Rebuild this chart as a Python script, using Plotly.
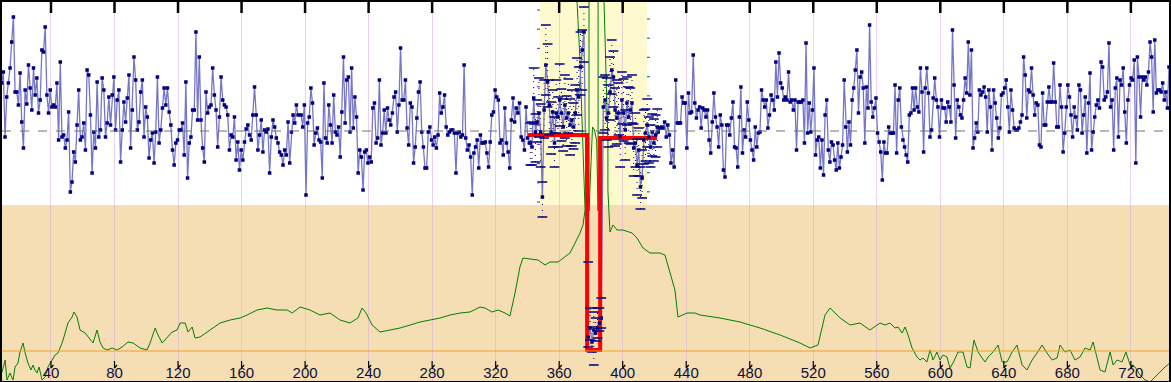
import numpy as np
import plotly.graph_objects as go

# ---------------- data ----------------
X_TICKS = list(range(40, 721, 40))

# blue signal, read segment by segment (values: offset from the dashed baseline)
seg1 = [78,48,59,-6,34,48,63,89,114,39,39,26,58,9,-17,41,27,66,43,21,63,36,53,18,31,81,79,104,36,18,41,24,26,24,48,-9,69,-6,-4,-17,-9,19,-61,-51,-21,-31,6,41,-9,-6,8,-19,61,56,16,-42,-1,-17,49,-6,1,53,41,-6,8,34,6,36,54,1,31,41,-31,1,29,9,33,56,-17,21,74,51,1,9,39,51,-6,24,14,-27,-9,-2,-32,-1,54,-12,1,23,43,26,43,19,6,-19,-34,-12,-9,1,1,8,-24,49,-47,-12,-6,21,21,99,11,74,11,-17,-31,39,18,24,26,63,36,21,-16,14,54,31,26,24,16,-19,-4,-6,14,-29,-11,-39,-19,-29,-11,2,6,-4,-9,16,44,16,-19,-4,11,-21,1,-1,2,-42,-6,11,4,-7,-12,-21,-24,-34,-19,-24,9,-32,-1,16,8,26,16]
seg2 = [16,4,26,-64,8,14,43,28,-14,-2,3,-9,-11,-47,48,-7,-12,26,6,-12,36,-1,-4,4,-26,19,74,8,51,54,-1,63,3,34,14,-42,-19,-26,-59,-21,-19,-32,-26,-31,23,28,-12,-7,51,-14,-2,21,-2,23,11,6,18,34,39,-1,26,83,31,31,51,3,-14,28,24,-32,-16,13,39,49,-1,-16,-37,-37,-1,4,-9,-14,-6,-17,-4,38,18,24,36,4,-4,-1,1,1,-2,-42,-2,-1,-6,-4,66,-7,-19,-14,-26,-64,-22,-16,-9,-37,-4,-12,-12,-11,-22,-36,-11,16,19,41,34,31,-12,-9,-24,23,-12,-21,-37,11,33,9,23,18,28,-6,-9,-19,24,-7,-12]
band_pre = [-12,-16,33,-1,9,18,-1,-66,21,66,49,26,-1,19,-12,18,14,31,18,4,26,13,18,6,11,4,18,41,34,64,81,99]
band_dip = [-206,-197,-211,-199,-202,-197,-192,-187]
band_post = [24,31,13,18,39,61,54,21,13,18,-6,31,18,1,28,14,21,28,-17,-12,-34,-19,-56,-47,-9,-2,6,-6,-16,-1,-12,-4,4]
seg3 = [-1,3,4,3,9,-6,6,-4,-32,-19,-36,51,8,8,8,34,28,28,-17,38,18,19,76,28,13,21,24,3,23,21,14,21,-9,-22,9,38,14,4,-16,16,6,-39,-46,6,6,-4,13,29,-16,-17,-36,14,44,-22,1,-6,29,11,-9,-19,-29,4,-16,-2,-1,41,31,24,31,3,16,36,31,21,69,34,78,48,43,31,34,31,59,29,31,21,31,-19,29,29,29,31,-12,88,-2,28,-1,21,63,-24,-9,-6,-37,-9,-44,16,31,-19,-31,-11,-14,-29,-39,-12,-37,-26,-14,51,4,-21,9,-14,31,43,61,81,18,54,59,43,-12,44,23,106,29,14,23,33,-2,-11,-21,-49,-11,-22,-22,4,-2,-2,-2,46,-22,31,43,4,-9,-16,-24,-31,16,18,43,21,43,24,19,63,39,-21,43,63,38,-6,1,33,53,31,24,-6]
seg4 = [31,23,23,9,29,24,9,101,46,-7,31,24,16,13,31,53,38,89,36,81,-17,-7,8,-1,41,36,39,44,34,-1,41,24,-19,41,28,13,-7,3,36,38,43,51,24,-1,41,21,3,1,1,3,9,16,74,56,13,41,39,63,36,16,28,26,-14,-16,38,6,6,29,44,29,29,68,29,4,4,46,24,-21,-2,24,46,34,16,-6,24,14,1,46,41,-2,16,34,-22,28,58,-19,-1,14,26,31,23,69,64,31,34,39,88,24,31,-19,43,53,-6,51,46,63,19,-12,31,46,53,51,71,-32,74,54,14,54,51,54,46,59,89,74,19,91,38,41,41,39,48,31,39,23,64,21]

# x extent covered by each segment
SPAN = {"seg1": (7.9, 195.6), "seg2": (197.5, 341.2), "pre": (341.8, 375.6),
        "dip": (378.3, 386.5), "post": (387.8, 421.8), "seg3": (422.4, 599.5),
        "seg4": (600.7, 745.0)}

# error bars in the highlighted window (upper / lower)
err_up_pre = [20,25,30,18,22,35,28,15,30,40,38,25,30,22,26,33,20,36,24,28,30,22,34,26,30,24,28,32,30,35,20,25]
err_dn_pre = [22,18,26,30,20,24,35,20,28,30,25,30,22,35,24,20,30,26,28,24,33,28,20,30,26,22,30,25,34,28,40,30]
err_up_dip = [75,20,15,18,15,20,15,20]
err_dn_dip = [10,12,10,35,8,10,8,10]
err_up_post = [30,25,40,28,35,30,26,22,38,30,24,28,34,20,26,30,22,28,24,30,26,22,20,28,30,24,26,20,22,18,24,20,18]
err_dn_post = [26,30,22,34,28,24,30,36,26,22,30,24,28,30,22,26,34,20,28,24,30,26,22,20,24,28,22,26,20,24,18,22,20]

# red step (window level, dip bottom)
red_x = [340.4, 377.6, 377.6, 385.8, 385.8, 421.6]
red_y = [-4, -4, -219, -219, -7, -7]

# green profile
green_x = [7.9,9.2,11.1,12.3,14.2,16.1,17.4,19.2,20.5,22.4,23.6,25.5,27.4,28.7,29.9,31.2,32.5,34.4,36.3,38.1,40.7,42.6,44.4,47.0,48.9,50.7,53.3,54.5,56.4,58.3,61.5,64.6,66.5,69.0,70.9,72.8,75.3,78.5,81.6,84.8,88.5,91.7,96.1,100.5,102.4,105.6,107.4,110.0,113.1,116.3,119.4,121.3,124.5,126.3,128.9,130.7,133.9,140.2,146.5,152.8,159.1,163.5,169.8,176.1,182.4,188.7,191.9,196.9,
           203.1,209.4,215.7,222.0,228.3,233.3,235.9,238.4,242.2,247.2,253.5,259.8,266.1,272.4,278.7,285.0,291.3,297.6,303.9,310.2,
           313.3,317.7,321.5,325.9,329.0,332.2,335.3,337.2,341.6,346.7,351.1,354.2,359.3,363.7,366.8,370.0,373.1,375.0,376.3,374.4,373.1,371.2,370.0,
           378.8,378.8,381.0,382.3,383.6,384.5,384.5,385.8,388.2,390.7,390.7,392.0,393.9,396.4,400.2,405.9,409.0,412.8,417.2,423.5,426.6,429.8,432.9,434.8,440.5,445.5,448.7,
           461.3,473.9,486.5,499.1,511.7,518.0,523.0,527.4,530.6,536.9,543.2,549.4,555.7,
           562.0,565.2,568.3,571.5,573.4,575.9,577.8,579.7,582.2,585.3,587.2,589.1,591.6,593.5,595.4,597.9,599.8,601.7,604.2,606.1,608.0,611.2,614.3,616.8,618.7,621.2,623.8,626.3,628.2,630.1,633.2,636.4,638.9,642.0,645.2,648.3,651.5,654.6,657.8,660.9,664.1,667.2,670.4,673.5,675.4,678.5,681.7,684.8,688.0,691.1,694.3,696.2,698.7,700.6,703.7,706.9,708.8,711.3,714.4,716.9,719.5,722.6,725.8,728.9,732.1,735.2,738.4,741.5,744.6]
green_y = [-245,-241,-229,-249,-242,-249,-236,-232,-221,-212,-221,-232,-239,-234,-239,-242,-236,-249,-246,-236,-229,-224,-222,-212,-202,-192,-186,-181,-186,-199,-202,-209,-212,-199,-211,-217,-219,-217,-219,-216,-211,-212,-217,-219,-212,-197,-204,-212,-207,-201,-199,-192,-192,-201,-196,-207,-206,-199,-192,-189,-187,-184,-179,-177,-179,-179,-182,-176,
           -179,-184,-182,-189,-192,-187,-177,-182,-194,-201,-199,-197,-194,-191,-189,-187,-184,-182,-181,-176,
           -177,-181,-179,-182,-185,-162,-136,-127,-128,-129,-134,-131,-131,-126,-122,-112,-102,-94,-79,11,71,131,300,
           300,-80,4,1,-10,-80,300,300,131,-9,-60,-101,-94,-99,-99,-102,-107,-117,-122,-122,-124,-141,-159,-186,-182,-182,-184,
           -187,-191,-197,-204,-212,-217,-214,-184,-177,-187,-194,-192,-199,
           -192,-194,-192,-197,-196,-202,-196,-204,-217,-226,-229,-227,-231,-219,-229,-221,-229,-224,-226,-237,-232,-221,-221,-236,-237,-209,-221,-227,-231,-226,-221,-214,-231,-231,-221,-214,-234,-239,-229,-222,-214,-222,-229,-227,-214,-221,-219,-229,-226,-217,-219,-211,-226,-239,-241,-221,-234,-229,-231,-221,-234,-236,-244,-249,-251,-246,-241,-236,-232]

BASELINE = 0
ORANGE_LEVEL = -220
PANEL_SPLIT = -74
WINDOW = (347.9, 415.3)
X_RANGE = (9.16, 744.0)
Y_RANGE = (-250, 129)
# window-edge scale marks (levels on the same y scale)
WIN_MARKS_LEFT = [121, 101.8, 82.6, 63.4, 44.2, 25, 5.8, -13.4, -32.6, -51.8, -71]
WIN_MARKS_RIGHT = [112, 92.8, 73.6, 54.4, 35.2, 16, -3.2, -22.4, -41.6, -60.8]

# ---------------- build ----------------
def xs(key, vals):
    a, b = SPAN[key]
    return np.linspace(a, b, len(vals))

x_pre, x_dip, x_post = xs("pre", band_pre), xs("dip", band_dip), xs("post", band_post)
all_x = np.concatenate([xs("seg1", seg1), xs("seg2", seg2), x_pre, x_dip, x_post,
                        xs("seg3", seg3), xs("seg4", seg4)]).tolist()
all_y = [float(v) for v in seg1 + seg2 + band_pre + band_dip + band_post + seg3 + seg4]

bx = np.concatenate([x_pre, x_dip, x_post]).tolist()
by = band_pre + band_dip + band_post
eu = err_up_pre + err_up_dip + err_up_post
ed = err_dn_pre + err_dn_dip + err_dn_post

ex, ey = [], []
for xi, yi, u, d in zip(bx, by, eu, ed):
    ex += [xi, xi, None]
    ey += [yi - d, yi + u, None]
cap_x = bx + bx
cap_y = [y + u for y, u in zip(by, eu)] + [y - d for y, d in zip(by, ed)]

px_x = (X_RANGE[1] - X_RANGE[0]) / 1167.0   # data units per pixel along x
px_y = (Y_RANGE[1] - Y_RANGE[0]) / 379.0    # data units per pixel along y

# tick marks (top edge, and small ones just above the labels)
top_tx, top_ty, bot_tx, bot_ty = [], [], [], []
for t in X_TICKS:
    top_tx += [t, t, None]
    top_ty += [Y_RANGE[1] + 2 * px_y, Y_RANGE[1] - 11 * px_y, None]
    bot_tx += [t, t, t + 2.5 * px_x, None]
    bot_ty += [Y_RANGE[0] + 20 * px_y, Y_RANGE[0] + 13 * px_y, Y_RANGE[0] + 16 * px_y, None]
wl_x, wl_y, wr_x, wr_y = [], [], [], []
for v in WIN_MARKS_LEFT:
    wl_x += [WINDOW[0] - 3 * px_x, WINDOW[0], None]
    wl_y += [v, v, None]
for v in WIN_MARKS_RIGHT:
    wr_x += [WINDOW[1], WINDOW[1] + 3 * px_x, None]
    wr_y += [v, v, None]

fig = go.Figure()
fig.add_trace(go.Scatter(x=green_x, y=green_y, mode="lines",
                         line=dict(color="#008000", width=1), hoverinfo="skip"))
fig.add_trace(go.Scatter(x=ex, y=ey, mode="lines",
                         line=dict(color="#000080", width=1, dash="1px,5px"), hoverinfo="skip"))
fig.add_trace(go.Scatter(x=all_x, y=all_y, mode="lines",
                         line=dict(color="#7676C8", width=1.3)))
fig.add_trace(go.Scatter(x=red_x, y=red_y, mode="lines",
                         line=dict(color="#FF0000", width=4)))
fig.add_trace(go.Scatter(x=cap_x, y=cap_y, mode="markers",
                         marker=dict(symbol="line-ew", size=7,
                                     line=dict(color="#000080", width=1.5))))
fig.add_trace(go.Scatter(x=all_x, y=all_y, mode="markers",
                         marker=dict(symbol="square", size=3.5, color="#000080")))
fig.add_trace(go.Scatter(x=top_tx, y=top_ty, mode="lines", cliponaxis=False,
                         line=dict(color="#000000", width=2.5), hoverinfo="skip"))
fig.add_trace(go.Scatter(x=bot_tx, y=bot_ty, mode="lines",
                         line=dict(color="#000000", width=1.2), hoverinfo="skip"))
fig.add_trace(go.Scatter(x=wl_x, y=wl_y, mode="lines",
                         line=dict(color="#9933CC", width=1.2), hoverinfo="skip"))
fig.add_trace(go.Scatter(x=wr_x, y=wr_y, mode="lines",
                         line=dict(color="#009090", width=1.2), hoverinfo="skip"))

shapes = [
    dict(type="rect", xref="paper", yref="y", x0=0, x1=1, y0=Y_RANGE[0], y1=PANEL_SPLIT,
         fillcolor="#F5DEB3", line_width=0, layer="below"),
    dict(type="rect", xref="x", yref="y", x0=WINDOW[0], x1=WINDOW[1], y0=PANEL_SPLIT, y1=Y_RANGE[1],
         fillcolor="#FFFACD", line_width=0, layer="below"),
    dict(type="line", xref="paper", yref="y", x0=0, x1=1, y0=BASELINE, y1=BASELINE,
         line=dict(color="#707070", width=1, dash="dash")),
    dict(type="line", xref="paper", yref="y", x0=0, x1=1, y0=ORANGE_LEVEL, y1=ORANGE_LEVEL,
         line=dict(color="#F0A030", width=1.2)),
]

fig.update_layout(
    width=1171, height=382, margin=dict(l=2, r=2, t=2, b=1, autoexpand=False),
    plot_bgcolor="rgba(0,0,0,0)", paper_bgcolor="white", showlegend=False,
    shapes=shapes,
    xaxis=dict(range=list(X_RANGE), tickvals=X_TICKS, ticks="", showgrid=True,
               gridcolor="rgba(215,175,230,0.55)", gridwidth=1, zeroline=False,
               showline=True, mirror=True, linecolor="black", linewidth=2,
               ticklabelposition="inside", automargin=False,
               tickfont=dict(family="Liberation Sans, Arial", size=15, color="#0C1030")),
    yaxis=dict(range=list(Y_RANGE), showgrid=False, zeroline=False, showticklabels=False,
               ticks="", showline=True, mirror=True, linecolor="black", linewidth=2,
               automargin=False),
)

fig.write_html("out.html", config={"displayModeBar": False},
               post_script="document.body.style.margin='0';document.body.style.overflow='hidden';")
